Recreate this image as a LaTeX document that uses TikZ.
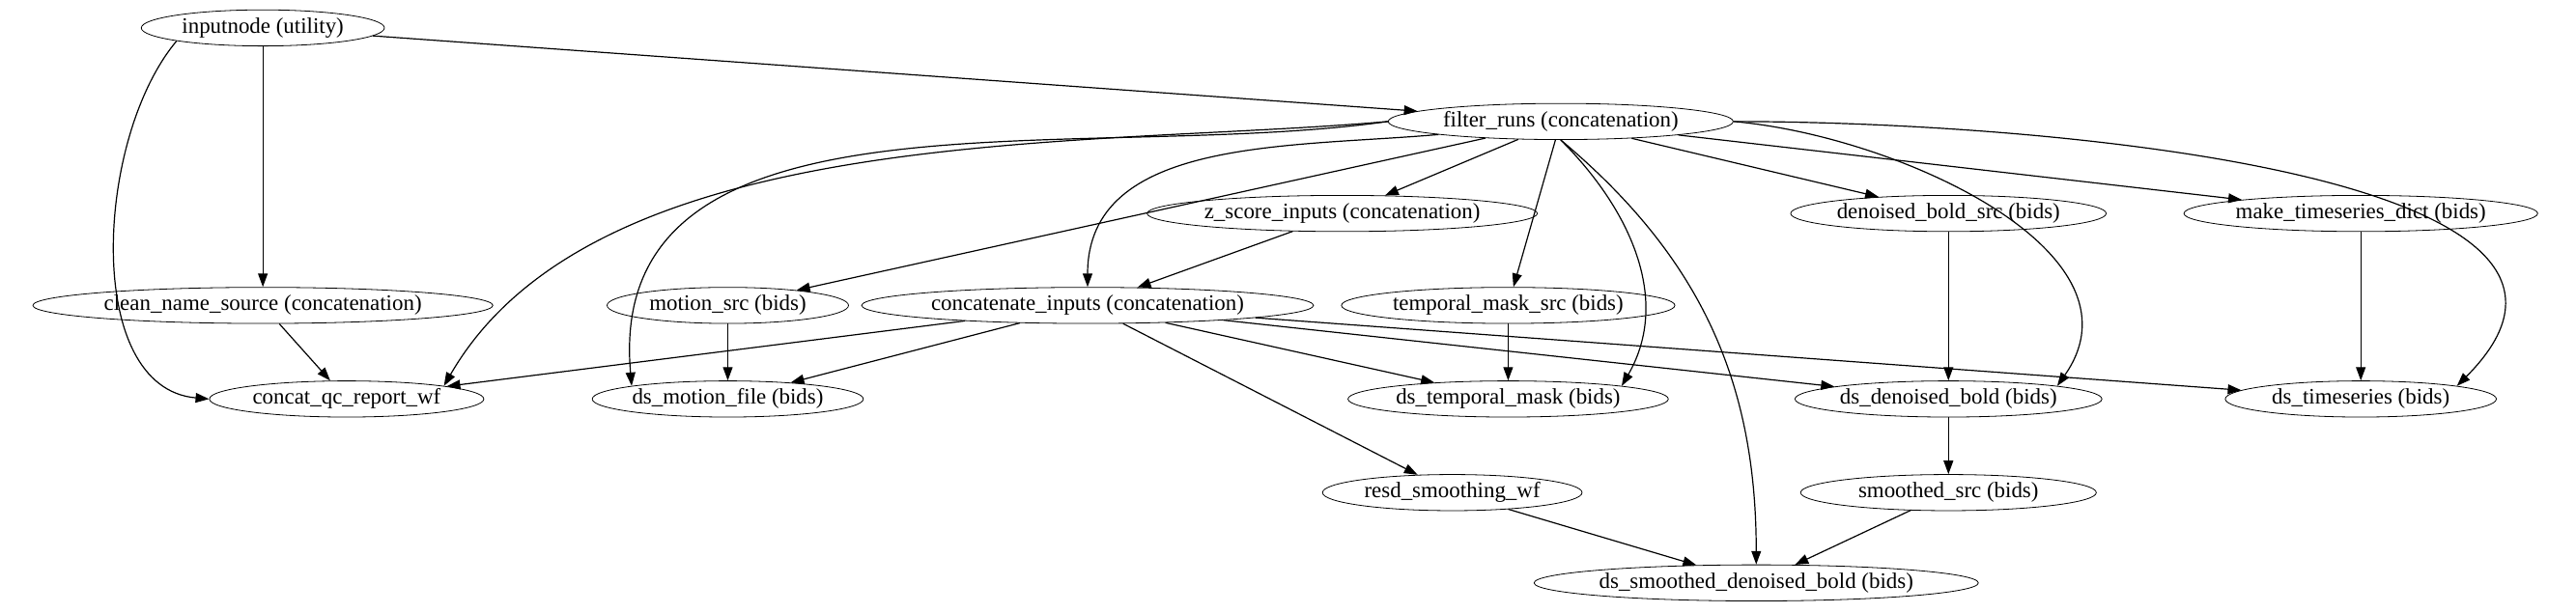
\documentclass[tikz,border=0pt]{standalone}
\usepackage{fontspec}
\setmainfont{Liberation Serif}
\usetikzlibrary{shapes.geometric, arrows.meta}

\begin{document}
\begin{tikzpicture}[x=0.03cm, y=-0.03cm,
    wf/.style={ellipse, draw, inner sep=0pt, minimum height=0.66cm, font=\fontsize{11.5}{13}\selectfont},
    link/.style={-{Triangle[length=7pt,width=5pt]}, semithick}]
    \useasboundingbox (0,0) rectangle (1568,373);

    \node[wf, minimum width=148*0.03cm](inputnode) at (160,17) {inputnode (utility)};
    \node[wf, minimum width=210*0.03cm](filter) at (950,74) {filter\_runs (concatenation)};
    \node[wf, minimum width=209*0.03cm](zscore) at (817,130) {z\_score\_inputs (concatenation)};
    \node[wf, minimum width=192*0.03cm](denoisedsrc) at (1186,130) {denoised\_bold\_src (bids)};
    \node[wf, minimum width=215*0.03cm](tsdict) at (1437,130) {make\_timeseries\_dict (bids)};
    \node[wf, minimum width=280*0.03cm](cleanname) at (160,186) {clean\_name\_source (concatenation)};
    \node[wf, minimum width=147*0.03cm](motionsrc) at (443,186) {motion\_src (bids)};
    \node[wf, minimum width=275*0.03cm](concat) at (662,186) {concatenate\_inputs (concatenation)};
    \node[wf, minimum width=203*0.03cm](masksrc) at (918,186) {temporal\_mask\_src (bids)};
    \node[wf, minimum width=167*0.03cm](qcreport) at (211,243) {concat\_qc\_report\_wf};
    \node[wf, minimum width=165*0.03cm](dsmotion) at (443,243) {ds\_motion\_file (bids)};
    \node[wf, minimum width=195*0.03cm](dsmask) at (918,243) {ds\_temporal\_mask (bids)};
    \node[wf, minimum width=177*0.03cm](dsdenoised) at (1186,243) {ds\_denoised\_bold (bids)};
    \node[wf, minimum width=165*0.03cm](dsts) at (1437,243) {ds\_timeseries (bids)};
    \node[wf, minimum width=158*0.03cm](smoothing) at (884,300) {resd\_smoothing\_wf};
    \node[wf, minimum width=180*0.03cm](smoothedsrc) at (1186,300) {smoothed\_src (bids)};
    \node[wf, minimum width=270*0.03cm](dssmoothed) at (1069,355) {ds\_smoothed\_denoised\_bold (bids)};

    \draw[link] (inputnode) -- (filter);
    \draw[link] (inputnode) -- (cleanname);
    \draw[link] (inputnode.south west) to[out=230, in=175, looseness=0.9] (qcreport.west);

    \draw[link] (filter.west) to[out=185, in=60, looseness=0.8] (qcreport.north east);
    \draw[link] (filter.west) to[out=188, in=95] (dsmotion.north west);
    \draw[link] (filter) -- (motionsrc);
    \draw[link] (filter.south west) to[out=185, in=90] (concat.north);
    \draw[link] (filter) -- (zscore);
    \draw[link] (filter) -- (masksrc);
    \draw[link] (filter.south) to[out=-45, in=60] (dsmask.north east);
    \draw[link] (filter.south) to[out=-40, in=90] (dssmoothed.north);
    \draw[link] (filter) -- (denoisedsrc);
    \draw[link] (filter.east) to[out=-5, in=55] (dsdenoised.north east);
    \draw[link] (filter) -- (tsdict);
    \draw[link] (filter.east) to[out=0, in=45] (dsts.north east);

    \draw[link] (zscore) -- (concat);
    \draw[link] (cleanname) -- (qcreport);
    \draw[link] (motionsrc) -- (dsmotion);
    \draw[link] (concat) -- (qcreport);
    \draw[link] (concat) -- (dsmotion);
    \draw[link] (concat) -- (dsmask);
    \draw[link] (concat) -- (dsdenoised);
    \draw[link] (concat) -- (dsts);
    \draw[link] (concat) -- (smoothing);
    \draw[link] (masksrc) -- (dsmask);
    \draw[link] (denoisedsrc) -- (dsdenoised);
    \draw[link] (tsdict) -- (dsts);
    \draw[link] (dsdenoised) -- (smoothedsrc);
    \draw[link] (smoothing) -- (dssmoothed);
    \draw[link] (smoothedsrc) -- (dssmoothed);
\end{tikzpicture}
\end{document}
